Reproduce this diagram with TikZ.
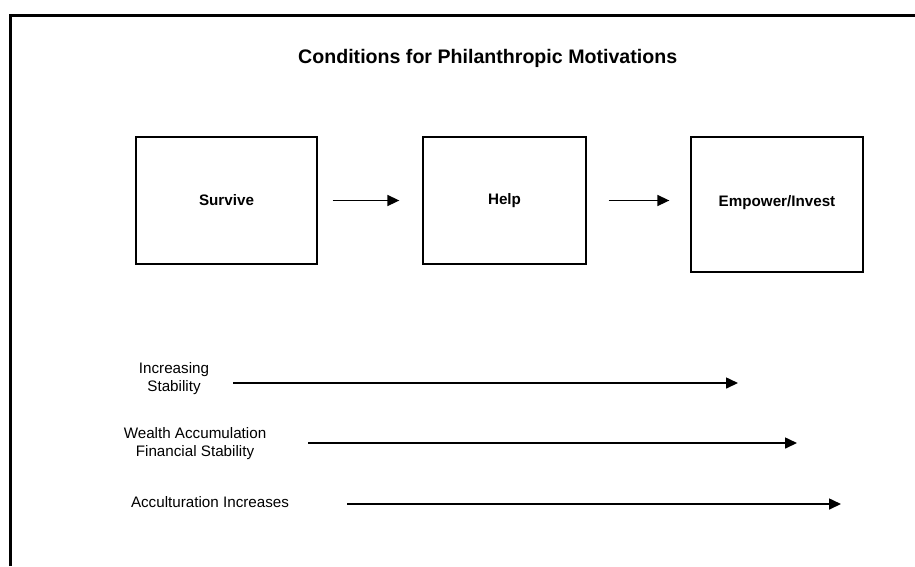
\documentclass[tikz,border=0pt]{standalone}
\usepackage{fontspec}
\setmainfont{Liberation Sans}
\usetikzlibrary{arrows.meta}
\begin{document}
\begin{tikzpicture}[x=1pt,y=-1pt,
  box/.style={draw, line width=1.3pt, inner sep=0pt, font=\bfseries\fontsize{15.2}{18}\selectfont},
  lbl/.style={align=center, inner sep=0pt, font=\fontsize{15.2}{18}\selectfont},
  arr/.style={line width=1.6pt, -{Triangle[length=12pt,width=11pt]}}]
\useasboundingbox (0,0) rectangle (915,566);
\draw[line width=3pt] (10,566) -- (10,15.5) -- (915,15.5);
\node[anchor=base west, inner sep=0pt, font=\bfseries\fontsize{19.6}{23}\selectfont] (title) at (298,63) {Conditions for Philanthropic Motivations};
\node[box, minimum width=181pt, minimum height=127pt] (S) at (226.5,200.5) {Survive};
\node[box, minimum width=163pt, minimum height=127pt] (H) at (504.5,200.5) {Help};
\node[box, minimum width=172pt, minimum height=135pt, text depth=8pt] (E) at (777,204.5) {Empower/Invest};
\draw[arr, shorten <=15pt, shorten >=23pt] (S.east) -- (H.west);
\draw[arr, shorten <=22pt, shorten >=21pt] (H.east) -- (E.west |- H.east);
\node[lbl] (L1) at (174,379) {Increasing\\Stability};
\node[lbl] (L2) at (195,444) {Wealth Accumulation\\Financial Stability};
\node[lbl] (L3) at (210,502) {Acculturation Increases};
\coordinate (s1) at (233,383);
\coordinate (e1) at (738,383);
\coordinate (s2) at (308,443);
\coordinate (e2) at (797,443);
\coordinate (s3) at (347,504);
\coordinate (e3) at (841,504);
\draw[arr] (s1) -- (e1);
\draw[arr] (s2) -- (e2);
\draw[arr] (s3) -- (e3);
\end{tikzpicture}
\end{document}
